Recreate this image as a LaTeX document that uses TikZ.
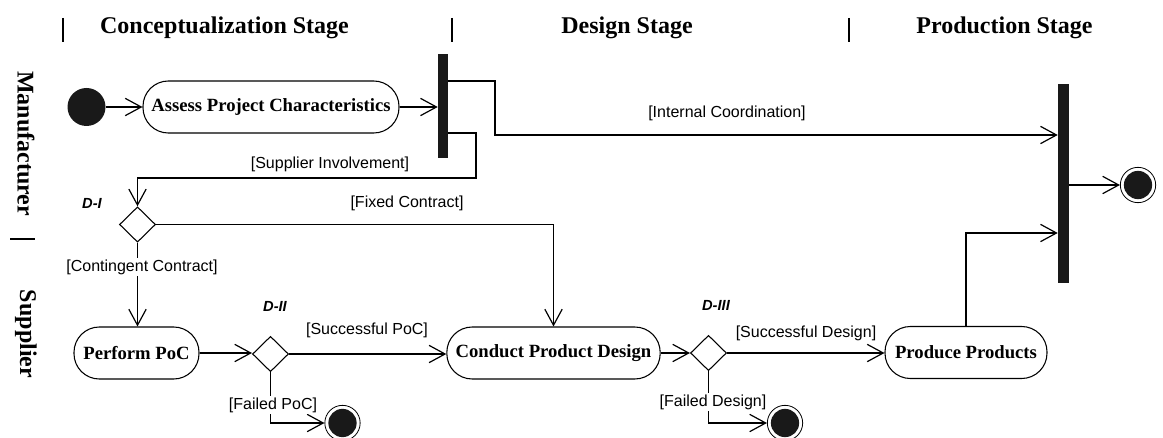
\documentclass[tikz,border=0pt]{standalone}
\usepackage{fontspec}
\setmainfont{Liberation Serif}
\setsansfont{Liberation Sans}
\usetikzlibrary{arrows.meta,shapes.geometric}
\begin{document}
\begin{tikzpicture}[x=0.75pt,y=-0.75pt,
  >={Straight Barb[length=12pt,width=13pt]},
  conn/.style={draw, line width=0.9pt},
  act/.style={draw, line width=0.8pt, rectangle, rounded corners=19pt, minimum height=39pt, inner sep=0pt,
     font=\fontsize{14}{16}\selectfont\bfseries},
  bar/.style={fill=black!90, draw=none, inner sep=0pt},
  dec/.style={draw, line width=0.8pt, diamond, inner sep=0pt, minimum width=27pt, minimum height=26.5pt},
  initial/.style={circle, fill=black!90, inner sep=0pt, minimum size=28.5pt},
  final/.style={circle, draw, line width=0.6pt, inner sep=0pt, minimum size=26.5pt,
     path picture={\fill[black!90] (path picture bounding box.center) circle (10.6pt);}},
  guard/.style={font=\sffamily\fontsize{12}{14}\selectfont, inner sep=1pt},
  guardw/.style={guard, fill=white},
  dlab/.style={font=\sffamily\bfseries\itshape\fontsize{11}{13}\selectfont, inner sep=0pt},
  head/.style={font=\fontsize{18}{20}\selectfont\bfseries, inner sep=0pt},
  sep/.style={line width=2.2pt}
]
\useasboundingbox (0,0) rectangle (1163,438);

% headers
\node[head] (h1) at (224.5,28) {Conceptualization Stage};
\node[head] (h2) at (627,28) {Design Stage};
\node[head] (h3) at (1004.5,28) {Production Stage};
\coordinate (s1a) at (63,18); \coordinate (s1b) at (63,42);
\coordinate (s2a) at (452,18); \coordinate (s2b) at (452,42);
\coordinate (s3a) at (849,18); \coordinate (s3b) at (849,42);
\draw[sep] (s1a) -- (s1b);
\draw[sep] (s2a) -- (s2b);
\draw[sep] (s3a) -- (s3b);

% lane labels
\node[head, rotate=-90] (l1) at (26,143.5) {Manufacturer};
\node[head, rotate=-90] (l2) at (26,334) {Supplier};
\coordinate (lsa) at (10,239); \coordinate (lsb) at (35,239);
\draw[sep] (lsa) -- (lsb);

% nodes
\node[initial] (init) at (86.5,107) {};
\node[act, minimum width=192pt] (assess) at (271,107) {Assess Project Characteristics};
\node[bar, minimum width=7.5pt, minimum height=78pt] (bar1) at (443,106) {};
\node[bar, minimum width=8.25pt, minimum height=149.25pt] (bar2) at (1063.5,183.5) {};
\node[final] (fend) at (1138,185) {};

\node[dec] (d1) at (137.5,224.5) {};
\node[dlab] (d1l) at (92,203) {D-I};

\node[act, minimum width=93.75pt] (ppoc) at (136.5,353) {Perform PoC};
\node[dec] (d2) at (270.5,354) {};
\node[dlab] (d2l) at (275,306) {D-II};
\node[final] (f1) at (342.5,423) {};

\node[act, minimum width=160pt] (cpd) at (553.5,353) {Conduct Product Design};
\node[dec] (d3) at (708.5,353) {};
\node[dlab] (d3l) at (716,305) {D-III};
\node[final] (f2) at (785,423) {};

\node[act, minimum width=121.5pt] (pp) at (966,352.5) {Produce Products};

% connectors
\draw[conn,->] (init) -- (assess);
\draw[conn,->] (assess.east) -- (assess.east -| bar1.west);

\coordinate (ic1) at (495,81);
\coordinate (ic2) at (495,135);
\draw[conn,->] (ic1 -| bar1.east) -- (ic1) -- (ic2) -- (ic2 -| bar2.west);
\node[guard] (gic) at (727,113) {[Internal Coordination]};

\coordinate (si1) at (476,133);
\coordinate (si2) at (476,178);
\draw[conn,->] (si1 -| bar1.east) -- (si1) -- (si2) -- (si2 -| d1.north) -- (d1.north);
\node[guard] (gsi) at (330,164) {[Supplier Involvement]};

\draw[conn,->] (d1.east) -| (cpd.north);
\node[guard] (gfc) at (407,203) {[Fixed Contract]};

\draw[conn,->] (d1.south) -- (d1.south |- ppoc.north);
\node[guardw] (gcc) at (142,267) {[Contingent Contract]};

\draw[conn,->] (ppoc.east) -- (ppoc.east -| d2.west);
\draw[conn,->] (d2.east) -- (d2.east -| cpd.west);
\node[guard] (gsp) at (367,330) {[Successful PoC]};
\draw[conn,->] (d2.south) |- (f1.west);
\node[guardw] (gfp) at (273,405) {[Failed PoC]};

\draw[conn,->] (cpd.east) -- (cpd.east -| d3.west);
\draw[conn,->] (d3.east) -- (d3.east -| pp.west);
\node[guard] (gsd) at (806,333) {[Successful Design]};
\draw[conn,->] (d3.south) |- (f2.west);
\node[guardw] (gfd) at (713,402) {[Failed Design]};

\coordinate (pc) at (966,233);
\draw[conn,->] (pp.north) -- (pc) -- (pc -| bar2.west);

\coordinate (fe) at (1100,185);
\draw[conn,->] (fe -| bar2.east) -- (fend.west);
\end{tikzpicture}
\end{document}
